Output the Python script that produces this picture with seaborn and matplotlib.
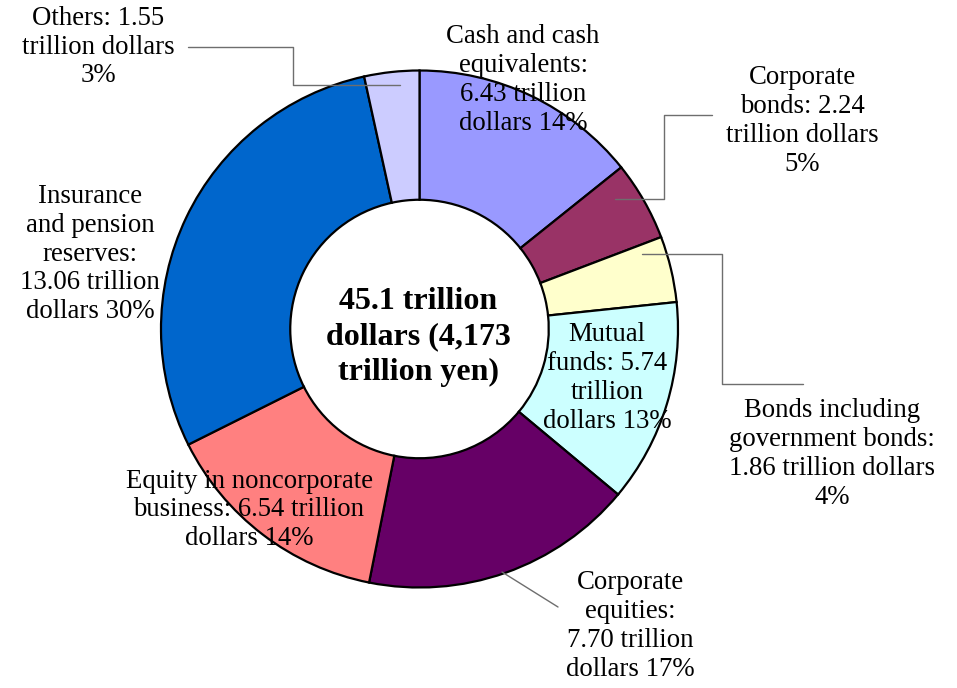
import matplotlib
matplotlib.use("Agg")
import matplotlib.pyplot as plt
import seaborn as sns

# Household financial assets (trillion dollars)
categories = ["Cash and cash equivalents", "Corporate bonds",
              "Bonds including government bonds", "Mutual funds",
              "Corporate equities", "Equity in noncorporate business",
              "Insurance and pension reserves", "Others"]
values = [6.43, 2.24, 1.86, 5.74, 7.70, 6.54, 13.06, 1.55]
colors = ["#9999FF", "#993366", "#FFFFCC", "#CCFFFF",
          "#660066", "#FF8080", "#0066CC", "#CCCCFF"]
label_texts = [
    "Cash and cash\nequivalents:\n6.43 trillion\ndollars 14%",
    "Corporate\nbonds: 2.24\ntrillion dollars\n5%",
    "Bonds including\ngovernment bonds:\n1.86 trillion dollars\n4%",
    "Mutual\nfunds: 5.74\ntrillion\ndollars 13%",
    "Corporate\nequities:\n7.70 trillion\ndollars 17%",
    "Equity in noncorporate\nbusiness: 6.54 trillion\ndollars 14%",
    "Insurance\nand pension\nreserves:\n13.06 trillion\ndollars 30%",
    "Others: 1.55\ntrillion dollars\n3%",
]
center_text = "45.1 trillion\ndollars (4,173\ntrillion yen)"

sns.set_theme(style="white")
plt.rcParams["font.family"] = ["Liberation Serif", "DejaVu Serif"]

W, H = 957, 688
fig = plt.figure(figsize=(W / 100, H / 100), dpi=100)
ax = fig.add_axes([0, 0, 1, 1])

# pixel -> data helper (pie centre / radius measured from reference)
CX, CY, R = 419.5, 329.0, 258.5
def px(x, y):
    return ((x - CX) / R, (CY - y) / R)

ax.pie(values, colors=colors, startangle=90, counterclock=False, radius=1.0,
       wedgeprops=dict(width=0.5, edgecolor="black", linewidth=1.6))

ax.set_xlim(-CX / R, (W - CX) / R)
ax.set_ylim(-(H - CY) / R, CY / R)
ax.set_aspect("equal")
ax.axis("off")

fs = 19.3
label_pos = [(523, 80), (802, 121), (832, 454), (607, 378),
             (630, 626), (249, 510), (90, 254), (98, 47)]
for txt, (x, y) in zip(label_texts, label_pos):
    ax.text(*px(x, y), txt, ha="center", va="center", fontsize=fs,
            linespacing=1.2, color="black")

ax.text(*px(418, 337), center_text, ha="center", va="center", fontsize=23,
        fontweight="bold", linespacing=1.28, color="black")

# leader lines
lc = "#6e6e6e"
leaders = [
    [(188, 47), (293, 47), (293, 85), (400, 85)],
    [(712, 115), (664, 115), (664, 199), (615, 199)],
    [(642, 254), (722, 254), (722, 384), (803, 384)],
    [(502, 572), (558, 607)],
]
for pts in leaders:
    xs, ys = zip(*[px(x, y) for x, y in pts])
    ax.plot(xs, ys, color=lc, linewidth=1.0)

fig.savefig("out.png", dpi=100, facecolor="white")
